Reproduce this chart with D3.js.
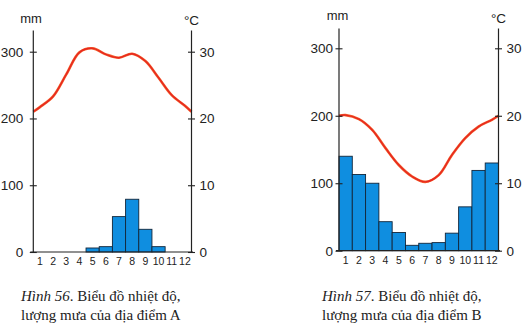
<!DOCTYPE html>
<html>
<head>
<meta charset="utf-8">
<script src="https://cdn.jsdelivr.net/npm/d3@7"></script>
<style>
  body { margin: 0; background: #fff; }
  svg { display: block; }
  .lbl { font-family: "Liberation Sans", Arial, sans-serif; fill: #222; }
  .cap { font-family: "Liberation Serif", "Times New Roman", serif; font-size: 15px; fill: #222; }
</style>
</head>
<body>
<script>
var months = [1,2,3,4,5,6,7,8,9,10,11,12];

// station A
var rainA = [0,0,0,0,6,8,53,79,34,8,0,0];
var tempA = [21.7,23.3,26.6,29.9,30.5,29.6,29.1,29.7,28.6,26.1,23.5,21.9];
var tempAEnds = [21,21];

// station B
var rainB = [140,113,100,43,27,8,11,12,26,65,119,130];
var tempB = [20.1,19.5,17.9,15.2,12.7,11.0,10.2,11.2,14.2,16.7,18.4,19.4];
var tempBEnds = [20,20];

var rainTicks = [0,100,200,300];
var tempTicks = [0,10,20,30];

var captions = [
  ["Hình 56", ". Biểu đồ nhiệt độ,", "lượng mưa của địa điểm A"],
  ["Hình 57", ". Biểu đồ nhiệt độ,", "lượng mưa của địa điểm B"]
];

var W = 528, H = 332;

var svg = d3.select('body').append('svg')
  .attr('width', W)
  .attr('height', H);

var drawChart = function (c) {
  var x = d3.scaleLinear().domain([0.5, 12.5]).range([c.left, c.right]);
  var y = d3.scaleLinear().domain([0, 300]).range([c.base, c.top300]);
  var yt = d3.scaleLinear().domain([0, 30]).range([c.base, c.top300]);
  var g = svg.append('g');

  var bars = c.rain
    .map(function (v, i) { return {m: months[i], v: v}; })
    .filter(function (d) { return d.v > 0; });

  // rain bars
  g.append('g').selectAll('rect')
    .data(bars)
    .enter()
    .append('rect')
    .attr('x', function (d) { return x(d.m - 0.5); })
    .attr('y', function (d) { return y(d.v); })
    .attr('width', x(1.5) - x(0.5))
    .attr('height', function (d) { return c.base - y(d.v); })
    .attr('fill', '#0f8ee0')
    .attr('stroke', '#12263a')
    .attr('stroke-width', 0.9);

  // temperature curve, running from axis to axis
  var pts = [{m: 0.5, t: c.ends[0]}]
    .concat(c.temp.map(function (t, i) { return {m: months[i], t: t}; }))
    .concat([{m: 12.5, t: c.ends[1]}]);
  var line = d3.line()
    .curve(d3.curveCatmullRom.alpha(0.5))
    .x(function (d) { return x(d.m); })
    .y(function (d) { return yt(d.t); });
  g.append('path')
    .attr('d', line(pts))
    .attr('fill', 'none')
    .attr('stroke', '#f3622e')
    .attr('stroke-width', 2.6);
  g.append('path')
    .attr('d', line(pts))
    .attr('fill', 'none')
    .attr('stroke', '#e8281f')
    .attr('stroke-width', 1.4);

  // axes
  var crossTicks = function (sel) {
    sel.select('.domain').remove();
    sel.selectAll('.tick line').attr('x1', -3.5).attr('x2', 3.5).attr('stroke', '#222').attr('stroke-width', 1.1);
    sel.selectAll('.tick text').attr('class', 'lbl').style('font-size', '13.5px').attr('font-family', null).attr('fill', null);
  };
  g.append('g')
    .attr('transform', 'translate(' + c.left + ',0)')
    .call(d3.axisLeft(y).tickValues(rainTicks).tickSize(0).tickPadding(c.padL))
    .call(crossTicks);
  g.append('g')
    .attr('transform', 'translate(' + c.right + ',0)')
    .call(d3.axisRight(yt).tickValues(tempTicks).tickSize(0).tickPadding(8))
    .call(crossTicks);

  g.append('line')
    .attr('x1', c.left).attr('x2', c.left)
    .attr('y1', c.axisTop).attr('y2', c.base)
    .attr('stroke', '#222').attr('stroke-width', 1.2);
  g.append('line')
    .attr('x1', c.right).attr('x2', c.right)
    .attr('y1', c.axisTop).attr('y2', c.base)
    .attr('stroke', '#222').attr('stroke-width', 1.2);
  g.append('line')
    .attr('x1', c.left - 3).attr('x2', c.right + 1.5)
    .attr('y1', c.base).attr('y2', c.base)
    .attr('stroke', '#222').attr('stroke-width', 1.2);

  // month labels
  g.append('g').selectAll('text')
    .data(months)
    .enter()
    .append('text')
    .attr('class', 'lbl')
    .attr('x', function (d) { return x(d); })
    .attr('y', c.base + 13)
    .attr('text-anchor', 'middle')
    .style('font-size', '10.5px')
    .text(function (d) { return d; });

  g.append('text')
    .attr('class', 'lbl')
    .attr('x', c.mmX).attr('y', c.mmY)
    .attr('text-anchor', 'middle')
    .style('font-size', '13px')
    .text('mm');
  g.append('text')
    .attr('class', 'lbl')
    .attr('x', c.right).attr('y', c.cY)
    .attr('text-anchor', 'middle')
    .style('font-size', '13.5px')
    .text('°C');

  // caption
  var cap = svg.append('text').attr('class', 'cap').attr('x', c.capX).attr('y', 301);
  cap.append('tspan').style('font-style', 'italic').text(c.caption[0]);
  cap.append('tspan').text(c.caption[1]);
  svg.append('text').attr('class', 'cap').attr('x', c.capX).attr('y', 320).text(c.caption[2]);
};

drawChart({
  rain: rainA, temp: tempA, ends: tempAEnds, caption: captions[0],
  left: 33.3, right: 191.5, base: 252, top300: 51.7, axisTop: 30.5,
  padL: 10, mmX: 31, mmY: 23, cY: 25, capX: 21
});

drawChart({
  rain: rainB, temp: tempB, ends: tempBEnds, caption: captions[1],
  left: 339, right: 498.5, base: 250.7, top300: 48.3, axisTop: 28.5,
  padL: 6, mmX: 337.5, mmY: 20, cY: 23, capX: 322
});
</script>
</body>
</html>
